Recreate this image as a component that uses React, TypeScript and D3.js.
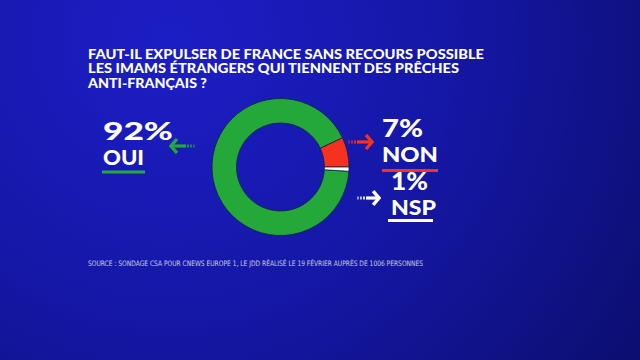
import React, { useRef, useEffect } from 'react';
import * as d3 from 'd3';

// Data
const answers = ['OUI', 'NON', 'NSP'];
const shares = [92, 7, 1];
const pctLabels = ['92%', '7%', '1%'];
const titleLines = [
  'FAUT-IL EXPULSER DE FRANCE SANS RECOURS POSSIBLE',
  'LES IMAMS ÉTRANGERS QUI TIENNENT DES PRÊCHES',
  'ANTI-FRANÇAIS ?',
];
const sourceText =
  'SOURCE : SONDAGE CSA POUR CNEWS  EUROPE 1, LE JDD  RÉALISÉ LE 19 FÉVRIER AUPRÈS DE 1006 PERSONNES';

const colors = ['#25a83a', '#f4321f', '#ffffff'];

// label layout (pct / name / underline / arrow) per answer
const layout = [
  { x: 103, pctY: 140, pctW: 70, nameY: 165, nameW: 41, ul: [102, 145, 172], arrow: [195, 170, 146] },
  { x: 382, pctY: 137, pctW: 41, nameY: 162, nameW: 56, ul: [382, 438, 170.5], arrow: [348, 373, 142] },
  { x: 391, pctY: 190, pctW: 37, nameY: 215, nameW: 45, ul: [388, 433, 220.5], arrow: [357, 380, 198] },
];

const App = () => {
  const svgRef = useRef<SVGSVGElement | null>(null);

  useEffect(() => {
    const width = 640;
    const height = 360;
    const cx = 280.5;
    const cy = 167;

    const svg = d3.select(svgRef.current)
      .attr('width', width)
      .attr('height', height);
    svg.selectAll('*').remove();

    // background gradient
    const defs = svg.append('defs');
    const grad = defs.append('radialGradient')
      .attr('id', 'bg')
      .attr('gradientUnits', 'userSpaceOnUse')
      .attr('cx', 170).attr('cy', 40).attr('r', 620);
    grad.append('stop').attr('offset', 0).attr('stop-color', '#1c1ec6');
    grad.append('stop').attr('offset', 0.45).attr('stop-color', '#1517a6');
    grad.append('stop').attr('offset', 1).attr('stop-color', '#0a0c66');
    svg.append('rect').attr('width', width).attr('height', height).attr('fill', 'url(#bg)');

    // Title
    svg.append('g')
      .selectAll('text')
      .data(titleLines)
      .enter()
      .append('text')
      .attr('x', 88)
      .attr('y', (d, i) => 58.5 + i * 14.8)
      .attr('fill', '#fff')
      .attr('font-family', 'Lato, "Open Sans", sans-serif')
      .attr('font-weight', 900)
      .attr('font-size', 13)
      .attr('textLength', (d, i) => [396, 371, 119][i])
      .attr('lengthAdjust', 'spacingAndGlyphs')
      .text(d => d);

    // Donut
    const total = d3.sum(shares);
    const start = Math.PI / 2 + (shares[2] / total) * 2 * Math.PI;
    const pie = d3.pie<number>()
      .sort(null)
      .value(d => d)
      .startAngle(start)
      .endAngle(start + 2 * Math.PI);
    const arc = d3.arc<d3.PieArcDatum<number>>()
      .innerRadius(44)
      .outerRadius(68.5);

    svg.append('g')
      .attr('transform', `translate(${cx},${cy})`)
      .selectAll('path')
      .data(pie(shares))
      .enter()
      .append('path')
      .attr('d', arc)
      .attr('fill', (d, i) => colors[i])
      .attr('stroke', '#14204a')
      .attr('stroke-width', 0.8);

    // Labels
    const lab = svg.append('g')
      .attr('font-family', 'Lato, "Open Sans", sans-serif')
      .attr('font-weight', 900)
      .attr('fill', '#fff');

    answers.forEach((name, i) => {
      const L = layout[i];
      lab.append('text')
        .attr('x', L.x).attr('y', L.pctY)
        .attr('font-size', 24)
        .attr('textLength', L.pctW)
        .attr('lengthAdjust', 'spacingAndGlyphs')
        .text(pctLabels[i]);
      lab.append('text')
        .attr('x', L.x).attr('y', L.nameY)
        .attr('font-size', 20)
        .attr('textLength', L.nameW)
        .attr('lengthAdjust', 'spacingAndGlyphs')
        .text(name);
      lab.append('rect')
        .attr('x', L.ul[0]).attr('y', L.ul[2] - 1.5)
        .attr('width', L.ul[1] - L.ul[0]).attr('height', 3)
        .attr('fill', colors[i]);

      // arrow: tail stripes + shaft + chevron head
      const [tail, tip, ay] = L.arrow;
      const dir = tip > tail ? 1 : -1;
      const len = Math.abs(tip - tail);
      const ag = lab.append('g').attr('fill', colors[i]).attr('stroke', colors[i]);
      for (let k = 0; k < 3; k++) {
        ag.append('rect')
          .attr('x', tail + dir * (k * 3) - (dir < 0 ? 2 : 0))
          .attr('y', ay - 1.5)
          .attr('width', 2).attr('height', 3)
          .attr('stroke', 'none')
          .attr('opacity', 0.55 + k * 0.15);
      }
      const shaftStart = tail + dir * 9;
      ag.append('line')
        .attr('x1', shaftStart).attr('y1', ay)
        .attr('x2', tip - dir * 2).attr('y2', ay)
        .attr('stroke-width', 3.2);
      const hs = Math.min(7, len * 0.3);
      ag.append('path')
        .attr('d', `M${tip - dir * hs},${ay - hs} L${tip - dir * 1},${ay} L${tip - dir * hs},${ay + hs}`)
        .attr('fill', 'none')
        .attr('stroke-width', 3.4)
        .attr('stroke-linejoin', 'miter');
    });

    // Source
    svg.append('text')
      .attr('x', 88)
      .attr('y', 266)
      .attr('fill', '#e2e3ee')
      .attr('opacity', 0.85)
      .attr('font-family', '"Liberation Sans Narrow", "DejaVu Sans Condensed", sans-serif')
      .attr('font-size', 7.5)
      .attr('textLength', 335)
      .attr('lengthAdjust', 'spacingAndGlyphs')
      .text(sourceText);
  }, []);

  return (
    <div style={{ position: 'absolute', left: 0, top: 0, width: '640px', height: '360px' }}>
      <svg ref={svgRef} style={{ display: 'block' }}></svg>
    </div>
  );
};

export default App;
